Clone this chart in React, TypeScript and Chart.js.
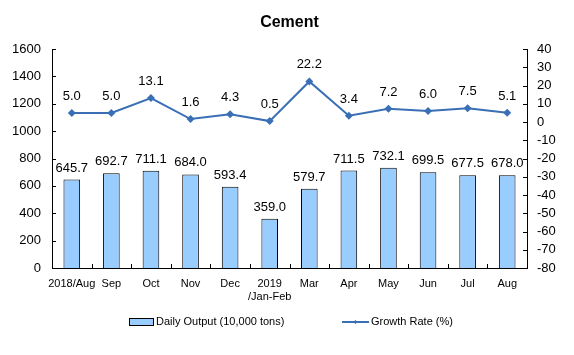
import React, { useEffect, useRef } from "react";
import { Chart, registerables } from "chart.js";

Chart.register(...registerables);

const categories: (string | string[])[] = [
  "2018/Aug", "Sep", "Oct", "Nov", "Dec", ["2019", "/Jan-Feb"], "Mar", "Apr", "May", "Jun", "Jul", "Aug",
];
const dailyOutput = [645.7, 692.7, 711.1, 684.0, 593.4, 359.0, 579.7, 711.5, 732.1, 699.5, 677.5, 678.0];
const growthRate = [5.0, 5.0, 13.1, 1.6, 4.3, 0.5, 22.2, 3.4, 7.2, 6.0, 7.5, 5.1];
const titleText = "Cement";
const barLegend = "Daily Output (10,000 tons)";
const lineLegend = "Growth Rate (%)";

const FONT = "'Liberation Sans', Arial, sans-serif";
const LINE_COLOR = "#3a6fb5";
const BAR_COLOR = "#99ccff";

export default function App() {
  const ref = useRef<HTMLCanvasElement | null>(null);
  useEffect(() => {
    document.body.style.margin = "0";
    const extras = {
      id: "extras",
      afterDraw(chart: any) {
        const ctx = chart.ctx;
        const ca = chart.chartArea;
        ctx.save();
        ctx.fillStyle = "#000";
        ctx.font = `bold 16px ${FONT}`;
        ctx.textAlign = "center";
        ctx.textBaseline = "middle";
        ctx.fillText(titleText, (ca.left + ca.right) / 2, 23);
        ctx.strokeStyle = "#000";
        ctx.lineWidth = 1;
        const yL = chart.scales.y;
        const yR = chart.scales.y1;
        yL.ticks.forEach((t: any) => {
          const py = Math.round(yL.getPixelForValue(t.value)) + 0.5;
          ctx.beginPath();
          ctx.moveTo(ca.left, py);
          ctx.lineTo(ca.left + 4, py);
          ctx.stroke();
        });
        yR.ticks.forEach((t: any) => {
          const py = Math.round(yR.getPixelForValue(t.value)) + 0.5;
          ctx.beginPath();
          ctx.moveTo(ca.right, py);
          ctx.lineTo(ca.right - 4, py);
          ctx.stroke();
        });
        const n = categories.length;
        for (let i = 1; i < n; i++) {
          const px = Math.round(ca.left + ((ca.right - ca.left) * i) / n) + 0.5;
          ctx.beginPath();
          ctx.moveTo(px, ca.bottom);
          ctx.lineTo(px, ca.bottom - 4);
          ctx.stroke();
        }
        ctx.font = `13px ${FONT}`;
        ctx.fillStyle = "#000";
        ctx.textAlign = "center";
        ctx.textBaseline = "alphabetic";
        const barMeta = chart.getDatasetMeta(0);
        barMeta.data.forEach((el: any, i: number) => {
          ctx.fillText(dailyOutput[i].toFixed(1), el.x, el.y - 8);
        });
        const lineMeta = chart.getDatasetMeta(1);
        lineMeta.data.forEach((el: any, i: number) => {
          ctx.fillText(growthRate[i].toFixed(1), el.x, el.y - 13);
        });
        const ly = 322;
        ctx.fillStyle = BAR_COLOR;
        ctx.fillRect(129, ly - 3, 24, 6);
        ctx.strokeStyle = "#000";
        ctx.strokeRect(129.5, ly - 3.5, 24, 7);
        ctx.fillStyle = "#000";
        ctx.font = `11px ${FONT}`;
        ctx.textAlign = "left";
        ctx.textBaseline = "middle";
        ctx.fillText(barLegend, 156, ly);
        ctx.strokeStyle = LINE_COLOR;
        ctx.lineWidth = 2;
        ctx.beginPath();
        ctx.moveTo(342, ly);
        ctx.lineTo(369, ly);
        ctx.stroke();
        ctx.fillStyle = LINE_COLOR;
        ctx.beginPath();
        ctx.moveTo(355.5, ly - 2);
        ctx.lineTo(357.5, ly);
        ctx.lineTo(355.5, ly + 2);
        ctx.lineTo(353.5, ly);
        ctx.closePath();
        ctx.fill();
        ctx.fillStyle = "#000";
        ctx.fillText(lineLegend, 371, ly);
        ctx.restore();
      },
    };
    const chart = new Chart(ref.current!, {
      type: "bar",
      data: {
        labels: categories,
        datasets: [
          {
            type: "bar",
            data: dailyOutput,
            backgroundColor: BAR_COLOR,
            borderColor: "#000",
            borderWidth: 1,
            barPercentage: 0.42,
            categoryPercentage: 1,
            yAxisID: "y",
            order: 2,
          },
          {
            type: "line",
            data: growthRate,
            borderColor: LINE_COLOR,
            borderWidth: 2,
            pointStyle: "rectRot",
            pointRadius: 4,
            pointBackgroundColor: LINE_COLOR,
            pointBorderColor: LINE_COLOR,
            pointBorderWidth: 0,
            yAxisID: "y1",
            order: 1,
            tension: 0,
          },
        ],
      },
      options: {
        animation: false,
        responsive: false,
        layout: { padding: { top: 49, left: 0, right: 0, bottom: 0 } },
        plugins: { legend: { display: false }, title: { display: false }, tooltip: { enabled: false } },
        scales: {
          x: {
            grid: { display: false, drawTicks: false },
            border: { display: true, color: "#000" },
            ticks: { color: "#000", font: { family: FONT, size: 11 }, padding: 9, maxRotation: 0, autoSkip: false },
            afterFit: (s: any) => { s.height = 87; },
          },
          y: {
            position: "left",
            min: 0,
            max: 1600,
            grid: { display: false, drawTicks: false },
            border: { display: true, color: "#000" },
            ticks: {
              stepSize: 200, color: "#000", font: { family: FONT, size: 13 }, padding: 11, autoSkip: false,
              callback: (v: any) => String(v),
            },
            afterFit: (s: any) => { s.width = 52; },
          },
          y1: {
            position: "right",
            min: -80,
            max: 40,
            grid: { display: false, drawTicks: false },
            border: { display: true, color: "#000" },
            ticks: {
              stepSize: 10, color: "#000", font: { family: FONT, size: 13 }, padding: 10, autoSkip: false,
              callback: (v: any) => String(v),
            },
            afterFit: (s: any) => { s.width = 47; },
          },
        },
      },
      plugins: [extras],
    });
    return () => chart.destroy();
  }, []);
  return (
    <div style={{ position: "absolute", left: 0, top: 0, width: 574, height: 355, background: "#fff" }}>
      <canvas ref={ref} width={574} height={355} style={{ width: 574, height: 355 }} />
    </div>
  );
}
